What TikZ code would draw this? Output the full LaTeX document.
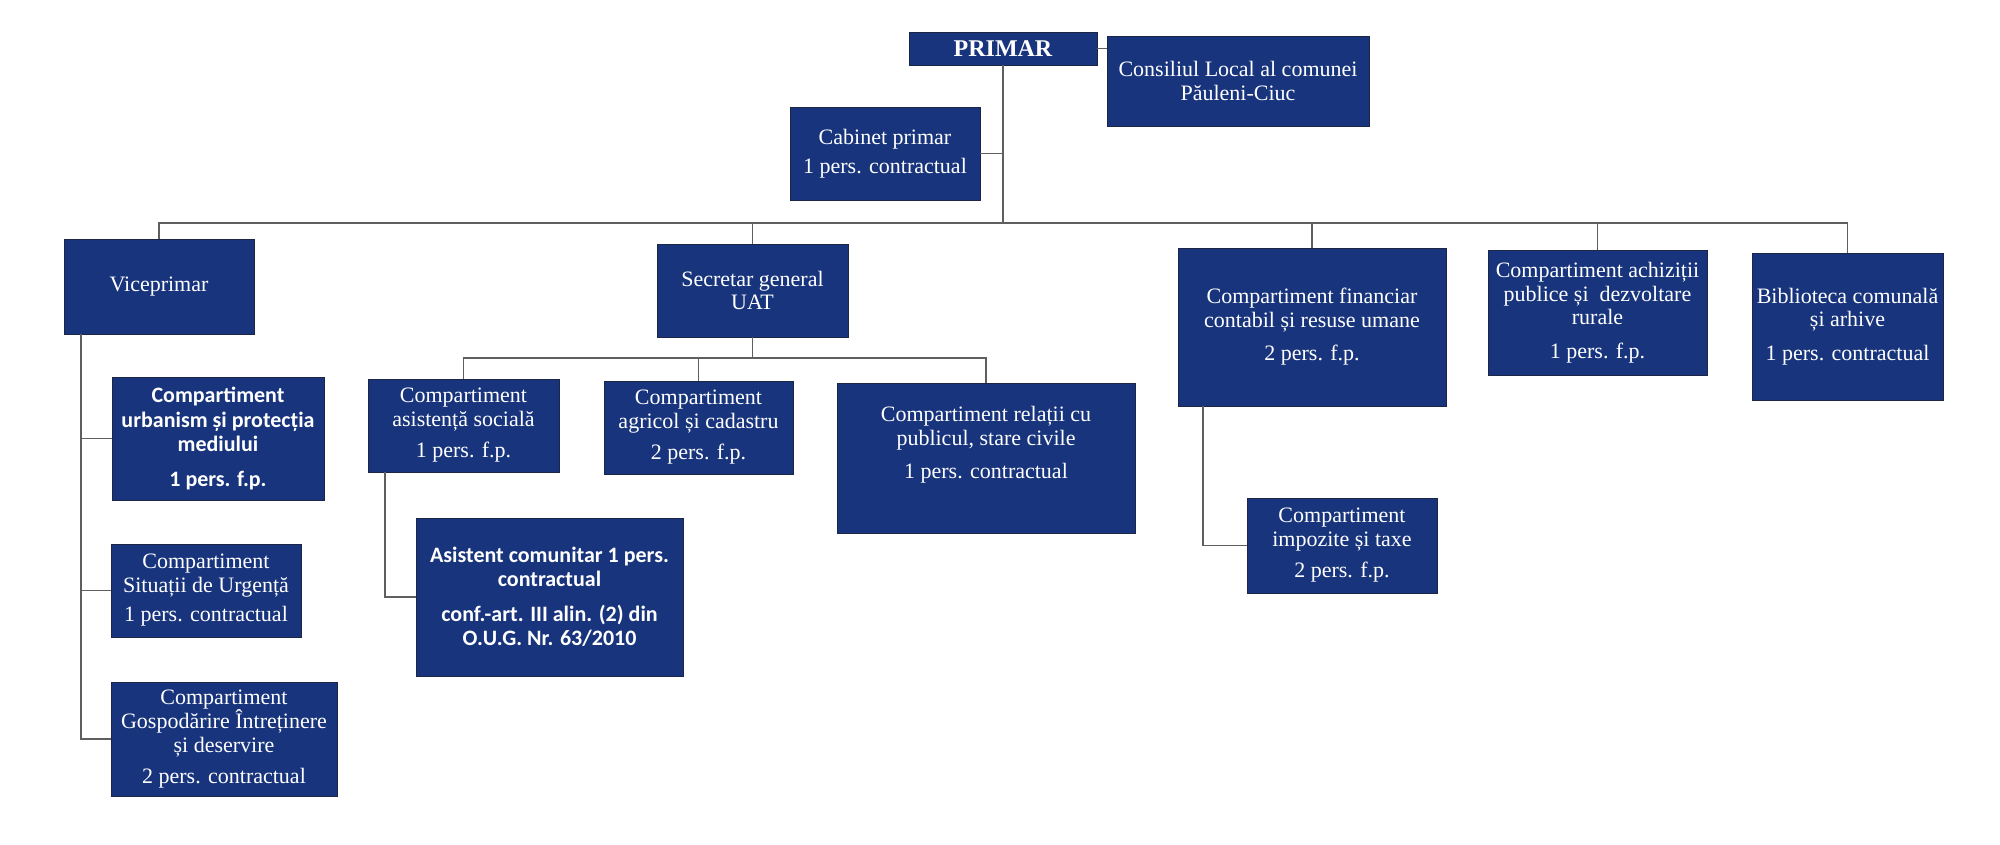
\documentclass[tikz,border=0pt]{standalone}
\usepackage{fontspec}
\setmainfont{Liberation Serif}
\newfontfamily\carlito{Carlito}
\definecolor{navy}{RGB}{24,52,124}
\definecolor{boxedge}{RGB}{30,38,70}
\definecolor{linec}{RGB}{95,95,95}
\begin{document}
\begin{tikzpicture}[x=1pt,y=-1pt,
  box/.style={rectangle, fill=navy, draw=boxedge, line width=0.8pt, text=white,
    align=center, inner sep=2pt, outer sep=0pt, font=\fontsize{22}{23.5}\selectfont},
  sbox/.style={box, font=\carlito\bfseries\fontsize{22}{24.5}\selectfont},
  txt/.style={text=white, align=center, inner sep=0pt, font=\fontsize{22}{23.5}\selectfont},
  conn/.style={draw=linec, line width=1.3pt}]
\fill[white] (0,0) rectangle (2000,844);
\useasboundingbox (0,0) rectangle (2000,844);

% top level
\node[box, minimum width=188, minimum height=33] (primar) at (1003,48.5)
  {\bfseries\fontsize{24}{26}\selectfont PRIMAR};
\node[box, minimum width=262, minimum height=90] (consiliu) at (1238,81)
  {Consiliul Local al comunei\\Păuleni-Ciuc};
\node[box, minimum width=190, minimum height=93] (cabinet) at (885,153.5)
  {Cabinet primar\\[6pt]1 pers. contractual};

% second level
\node[box, minimum width=190, minimum height=95] (vice) at (159,286.5) {Viceprimar};
\node[box, minimum width=191, minimum height=93] (secr) at (752.5,290.5)
  {Secretar general\\UAT};
\node[box, minimum width=268, minimum height=158] (fin) at (1312,327)
  {Compartiment financiar\\contabil și resuse umane\\[10pt]2 pers. f.p.};
\node[box, minimum width=219, minimum height=125] (achiz) at (1597.5,312.5)
  {Compartiment achiziții\\publice și~ dezvoltare\\rurale\\[10pt]1 pers. f.p.};
\node[box, minimum width=191, minimum height=147] (bibl) at (1847.5,326.5)
  {Biblioteca comunală\\și arhive\\[10pt]1 pers. contractual};

% under viceprimar
\node[sbox, minimum width=212, minimum height=123] (urban) at (218,438.5)
  {Compartiment\\urbanism și protecția\\mediului\\[10pt]1 pers. f.p.};
\node[box, minimum width=190, minimum height=93] (situ) at (206,590.5)
  {Compartiment\\Situații de Urgență\\[6pt]1 pers. contractual};
\node[box, minimum width=226, minimum height=114] (gosp) at (224,739)
  {Compartiment\\Gospodărire Întreținere\\și deservire\\[8pt]2 pers. contractual};

% under secretar
\node[box, minimum width=191, minimum height=93] (asist) at (463.5,425.5)
  {Compartiment\\asistență socială\\[8pt]1 pers. f.p.};
\node[box, minimum width=189, minimum height=93] (agric) at (698.5,427.5)
  {Compartiment\\agricol și cadastru\\[8pt]2 pers. f.p.};
\node[box, minimum width=298, minimum height=150] (relatii) at (986,458) {};
\node[txt] (relatiiT) at (986,445)
  {Compartiment relații cu\\publicul, stare civile\\[10pt]1 pers. contractual};
\node[sbox, minimum width=267, minimum height=158] (acom) at (549.5,597)
  {Asistent comunitar 1 pers.\\contractual\\[10pt]conf.-art. III alin. (2) din\\O.U.G. Nr. 63/2010};

% under financiar
\node[box, minimum width=190, minimum height=95] (impoz) at (1342,545.5)
  {Compartiment\\impozite și taxe\\[8pt]2 pers. f.p.};

% connectors
\coordinate (bus) at (1003,223);
\draw[conn] (primar.east) -- (primar.east -| consiliu.west);
\draw[conn] (primar.south) -- (bus);
\draw[conn] (cabinet.east) -- (cabinet.east -| bus);
\draw[conn] (bus) -| (vice.north);
\draw[conn] (bus) -| (secr.north);
\draw[conn] (bus) -| (fin.north);
\draw[conn] (bus) -| (achiz.north);
\draw[conn] (bus) -| (bibl.north);

\coordinate (sbus) at (752.5,358);
\draw[conn] (secr.south) -- (sbus);
\draw[conn] (sbus) -| (asist.north);
\draw[conn] (sbus) -| (agric.north);
\draw[conn] (sbus) -| (relatii.north);

\coordinate (asd) at ([xshift=17pt]asist.south west);
\draw[conn] (asd) |- (acom.west);

\coordinate (vd) at ([xshift=17pt]vice.south west);
\draw[conn] (vd) |- (urban.west);
\draw[conn] (vd) |- (situ.west);
\draw[conn] (vd) |- (gosp.west);

\coordinate (fd) at ([xshift=25pt]fin.south west);
\draw[conn] (fd) |- (impoz.west);
\end{tikzpicture}
\end{document}
